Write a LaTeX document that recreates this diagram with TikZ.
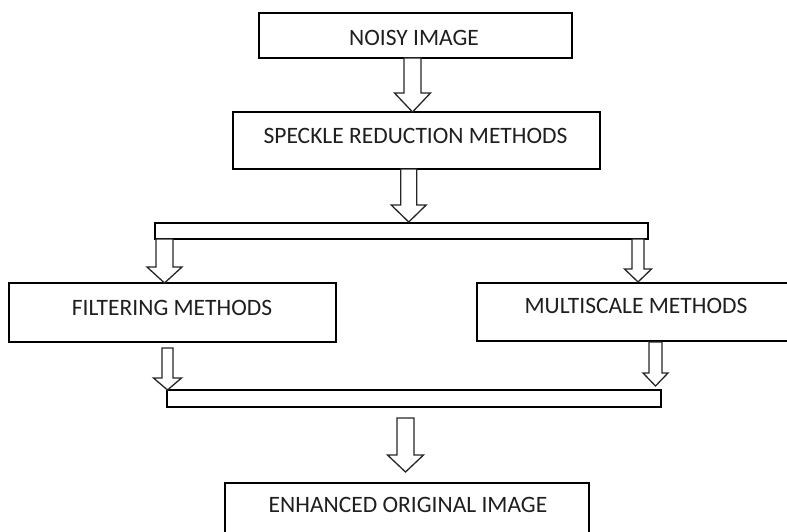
\documentclass[tikz,border=0pt]{standalone}
\usepackage{fontspec}
\setmainfont{Carlito}
\begin{document}
\begin{tikzpicture}[x=1pt,y=-1pt,
  box/.style={draw=black,line width=1.7pt,fill=white,inner sep=0pt,outer sep=0pt},
  lbl/.style={font=\fontsize{23.5}{27}\selectfont,text=black!88,anchor=base,inner sep=0pt},
  blk/.style={draw=black!85,line width=1.3pt,fill=white,line join=miter}]
\useasboundingbox (0,0) rectangle (787,532);
\begin{scope}
\clip (0,0) rectangle (787,532);
% boxes, given by their corners
\path[box] (259,13) rectangle (572,58) coordinate[pos=.5] (noisy);
\path[box] (233,112) rectangle (600,169) coordinate[pos=.5] (speckle);
\path[box] (155,223) rectangle (648,239) coordinate[pos=.5] (split);
\path[box] (9,283) rectangle (336,342) coordinate[pos=.5] (filter);
\path[box] (477,283) rectangle (800,341) coordinate[pos=.5] (multi);
\path[box] (167,390) rectangle (661,407) coordinate[pos=.5] (merge);
\path[box] (225,483) rectangle (589,545) coordinate[pos=.5] (enhanced);
\end{scope}
% labels
\node[lbl] (tnoisy) at (414,46) {NOISY IMAGE};
\node[lbl] (tspeckle) at (415.5,143.5) {SPECKLE REDUCTION METHODS};
\node[lbl] (tfilter) at (172,315) {FILTERING METHODS};
\node[lbl] (tmulti) at (636,313) {MULTISCALE METHODS};
\node[lbl] (tenh) at (408,512) {ENHANCED ORIGINAL IMAGE};
% hollow block arrows: x, shaft top, head start, tip, shaft half width, head half width
\newcommand{\blockarrow}[6]{%
  \draw[blk] (#1-#5,#2) -- (#1+#5,#2) -- (#1+#5,#3) -- (#1+#6,#3) -- (#1,#4)
    -- (#1-#6,#3) -- (#1-#5,#3) -- cycle;}
\blockarrow{412.5}{58}{93}{112}{8.5}{18}
\blockarrow{408.7}{169}{205}{222}{8}{17.5}
\blockarrow{164.5}{239}{267}{283}{8.5}{17.5}
\blockarrow{638}{239}{269}{282}{6}{13.5}
\blockarrow{167.5}{348}{378}{390}{5.5}{14}
\blockarrow{655.5}{342}{373}{386}{6.5}{12.5}
\blockarrow{405.5}{418}{455}{472}{8.5}{18}
\end{tikzpicture}
\end{document}
